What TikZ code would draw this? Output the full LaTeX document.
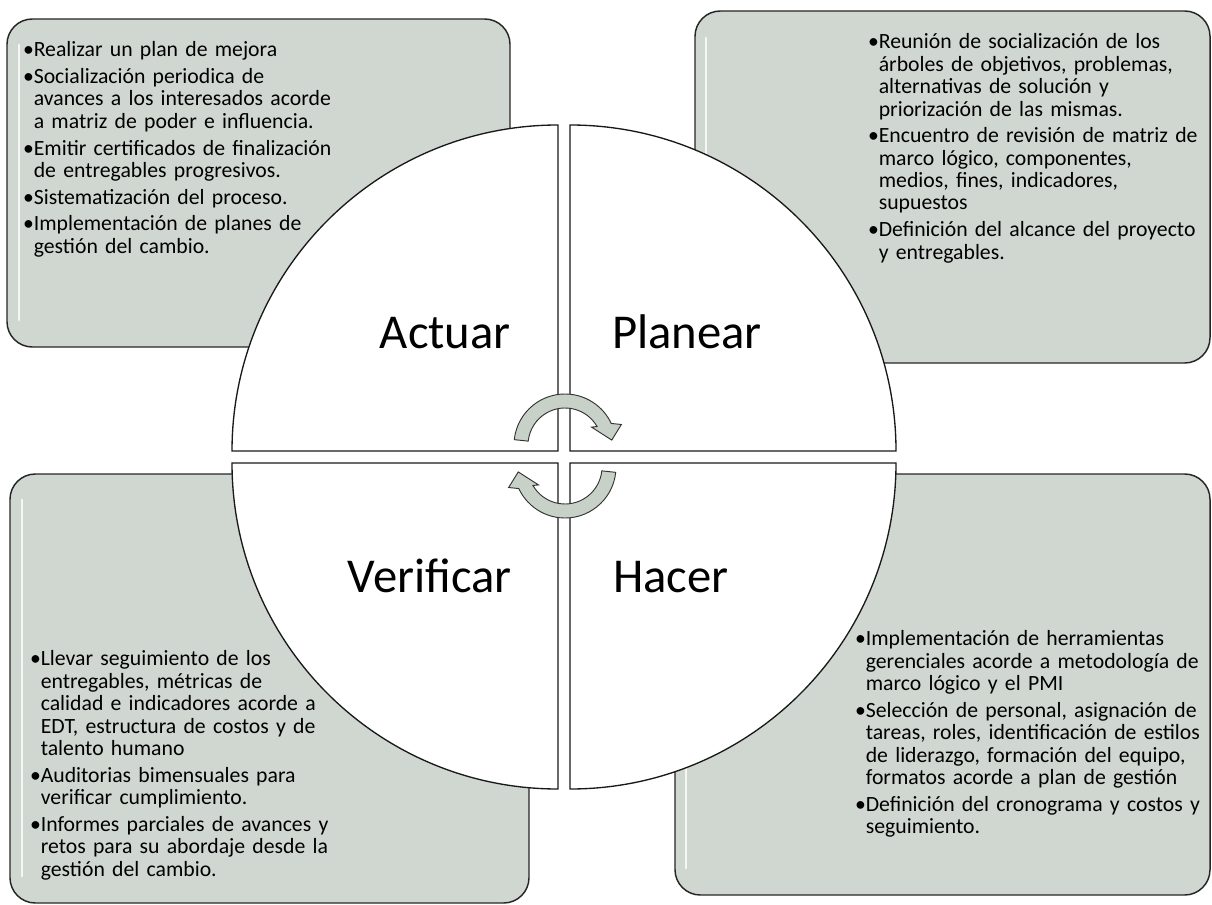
\documentclass[tikz,border=0pt]{standalone}
\usepackage{fontspec}
\setmainfont{Carlito}
\usetikzlibrary{calc}
\definecolor{boxgray}{RGB}{208,215,209}
\definecolor{arrowgray}{RGB}{199,209,200}
\newcommand{\itembul}{\par\setlength{\parskip}{3.2pt}\noindent\hangindent=6.4pt\hangafter=1\strut\makebox[6.4pt][l]{\hspace*{-1.6pt}\textbullet}}
\newcommand{\nl}{\newline}
\tikzset{
  panel/.style={draw=black!85,line width=1.1pt,fill=boxgray,rounded corners=19pt},
  bevel/.style={white,line width=2.2pt,opacity=0.8,line cap=round},
  quarter/.style={draw=black!90,line width=1pt,fill=white},
  cyclearrow/.style={draw=black!80,line width=0.7pt,fill=arrowgray},
  phase/.style={inner sep=0pt,font={\fontsize{36.5}{40}\selectfont}},
  itemtext/.style={anchor=north west,inner sep=0pt,text width=300pt,align=left,
    font={\fontsize{16.3}{16.8}\selectfont\spaceskip=0.2em}}
}
\begin{document}
\begin{tikzpicture}[x=0.75pt,y=0.75pt,yscale=-1,xscale=1]
\useasboundingbox (0,0) rectangle (1212,905);

%Shape: Rounded Rect [id:actuarbox]
\draw[panel] (7,19) rectangle (510,347);
\draw[bevel] (19,45) -- (19,320);
%Shape: Rounded Rect [id:planearbox]
\draw[panel] (695,11) rectangle (1210,363);
\draw[bevel] (706,38) -- (706,336);
%Shape: Rounded Rect [id:verificarbox]
\draw[panel] (10,474) rectangle (529,903);
\draw[bevel] (22,500) -- (22,876);
%Shape: Rounded Rect [id:hacerbox]
\draw[panel] (675,474) rectangle (1210,895);
\draw[bevel] (686,500) -- (686,868);

%Shape: Quarter circles
\draw[quarter] (558,451) -- ++(180:326) arc[start angle=180,end angle=270,radius=326] -- cycle;
\draw[quarter] (570,451) -- ++(270:326) arc[start angle=270,end angle=360,radius=326] -- cycle;
\draw[quarter] (570,463) -- ++(0:326) arc[start angle=0,end angle=90,radius=326] -- cycle;
\draw[quarter] (558,463) -- ++(90:326) arc[start angle=90,end angle=180,radius=326] -- cycle;

%Shape: Circular Arrows
\coordinate (topc) at (565,445);
\coordinate (botc) at (565,467);
\draw[cyclearrow] ($(topc)+(-174:51)$) arc[start angle=-174,end angle=-25,radius=51]
  -- ($(topc)+(-20:60)$) -- ($(topc)+(-6:47)$) -- ($(topc)+(-34:32)$) -- ($(topc)+(-30:37)$)
  arc[start angle=-30,end angle=-174,radius=37] -- cycle;
\draw[cyclearrow] ($(botc)+(6:51)$) arc[start angle=6,end angle=155,radius=51]
  -- ($(botc)+(160:60)$) -- ($(botc)+(174:47)$) -- ($(botc)+(146:32)$) -- ($(botc)+(150:37)$)
  arc[start angle=150,end angle=6,radius=37] -- cycle;

% Text Node
\draw (511,348) node[phase,anchor=base east] (actuar) {Actuar};
% Text Node
\draw (612,348) node[phase,anchor=base west] (planear) {Planear};
% Text Node
\draw (512,592) node[phase,anchor=base east] (verificar) {Verificar};
% Text Node
\draw (613,592) node[phase,anchor=base west] (hacer) {Hacer};

% Text Node
\draw (25,30) node[itemtext] (actuarlist) {%
\itembul Realizar un plan de mejora
\itembul Socialización periodica de\nl avances a los interesados acorde\nl a matriz de poder e influencia.
\itembul Emitir certificados de finalización\nl de entregables progresivos.
\itembul Sistematización del proceso.
\itembul Implementación de planes de\nl gestión del cambio.\par};
% Text Node
\draw (870,22) node[itemtext] (planearlist) {%
\itembul Reunión de socialización de los\nl árboles de objetivos, problemas,\nl alternativas de solución y\nl priorización de las mismas.
\itembul Encuentro de revisión de matriz de\nl marco lógico, componentes,\nl medios, fines, indicadores,\nl supuestos
\itembul Definición del alcance del proyecto\nl y entregables.\par};
% Text Node
\draw (32,639) node[itemtext] (verificarlist) {%
\itembul Llevar seguimiento de los\nl entregables, métricas de\nl calidad e indicadores acorde a\nl EDT, estructura de costos y de\nl talento humano
\itembul Auditorias bimensuales para\nl verificar cumplimiento.
\itembul Informes parciales de avances y\nl retos para su abordaje desde la\nl gestión del cambio.\par};
% Text Node
\draw (857,619) node[itemtext] (hacerlist) {%
\itembul Implementación de herramientas\nl gerenciales acorde a metodología de\nl marco lógico y el PMI
\itembul Selección de personal, asignación de\nl tareas, roles, identificación de estilos\nl de liderazgo, formación del equipo,\nl formatos acorde a plan de gestión
\itembul Definición del cronograma y costos y\nl seguimiento.\par};

\end{tikzpicture}
\end{document}
